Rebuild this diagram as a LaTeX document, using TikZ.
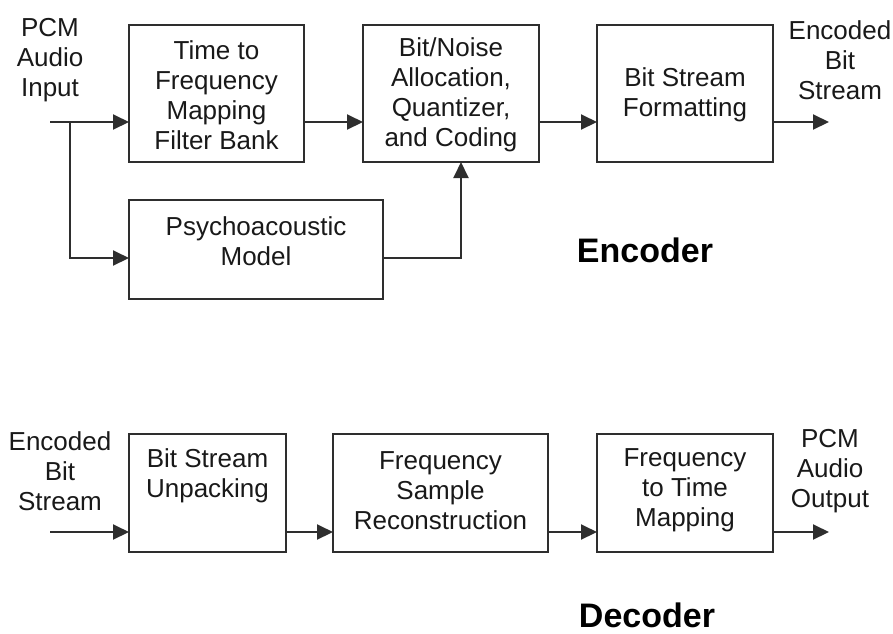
\documentclass[tikz,border=0pt]{standalone}
\usepackage{fontspec}
\setmainfont{Liberation Sans}
\usetikzlibrary{arrows.meta}
\definecolor{ink}{HTML}{2E2E2E}
\tikzset{
  blk/.style={draw=ink, line width=2pt, inner sep=0pt, outer sep=0pt},
  txt/.style={align=center, inner sep=0pt, text=black!90,
              font=\fontsize{26}{30}\selectfont},
  title/.style={inner sep=0pt, font=\fontsize{34}{40}\selectfont\bfseries},
  arr/.style={draw=ink, line width=2pt, -{Triangle[length=16pt,width=15pt]}},
  wire/.style={draw=ink, line width=2pt}
}
\begin{document}
\begin{tikzpicture}[x=1pt,y=-1pt]
\useasboundingbox (0,0) rectangle (893,633);

% ---------------- Encoder ----------------
\node[blk, minimum width=175pt, minimum height=137pt] (tf)  at (216.5,93.5) {};
\node[blk, minimum width=176pt, minimum height=137pt] (bna) at (451,93.5) {};
\node[blk, minimum width=176pt, minimum height=137pt] (bsf) at (685,93.5) {};
\node[blk, minimum width=254pt, minimum height=99pt]  (psy) at (256,249.5) {};

\node[txt] (tft)  at (216.5,95) {Time to\\Frequency\\Mapping\\Filter Bank};
\node[txt] (bnat) at (451,95) {Bit/Noise\\Allocation,\\Quantizer,\\and Coding};
\node[txt] (bsft) at (685,95) {Bit Stream\\Formatting};
\node[txt] (psyt) at (256,241) {Psychoacoustic\\Model};

\node[txt] (pcmin)  at (50,60)  {PCM\\Audio\\Input};
\node[txt] (encout) at (840,60) {Encoded\\Bit\\Stream};
\node[title] (enc) at (645,250) {Encoder};

\coordinate (in)  at (50,122);
\coordinate (br)  at (70,122);
\coordinate (py)  at (70,258);
\coordinate (up)  at (461,258);
\coordinate (out) at (829,122);

\draw[arr] (in) -- (in -| tf.west);
\draw[arr] (br) -- (py) -- (py -| psy.west);
\draw[arr] (py -| psy.east) -- (up) -- (up |- bna.south);
\draw[arr] (in -| tf.east) -- (in -| bna.west);
\draw[arr] (in -| bna.east) -- (in -| bsf.west);
\draw[arr] (in -| bsf.east) -- (out);

% ---------------- Decoder ----------------
\node[blk, minimum width=157pt, minimum height=118pt] (unp) at (207.5,493) {};
\node[blk, minimum width=215pt, minimum height=118pt] (fsr) at (440.5,493) {};
\node[blk, minimum width=176pt, minimum height=118pt] (ftm) at (685,493) {};

\node[txt] (unpt) at (207.5,476) {Bit Stream\\Unpacking};
\node[txt] (fsrt) at (440.5,491) {Frequency\\Sample\\Reconstruction};
\node[txt] (ftmt) at (685,490) {Frequency\\to Time\\Mapping};

\node[txt] (decin)  at (60,471)  {Encoded\\Bit\\Stream};
\node[txt] (pcmout) at (830,471) {PCM\\Audio\\Output};
\node[title] (dec) at (647,615) {Decoder};

\coordinate (din)  at (50,532);
\coordinate (dout) at (829,532);

\draw[arr] (din) -- (din -| unp.west);
\draw[arr] (din -| unp.east) -- (din -| fsr.west);
\draw[arr] (din -| fsr.east) -- (din -| ftm.west);
\draw[arr] (din -| ftm.east) -- (dout);
\end{tikzpicture}
\end{document}
